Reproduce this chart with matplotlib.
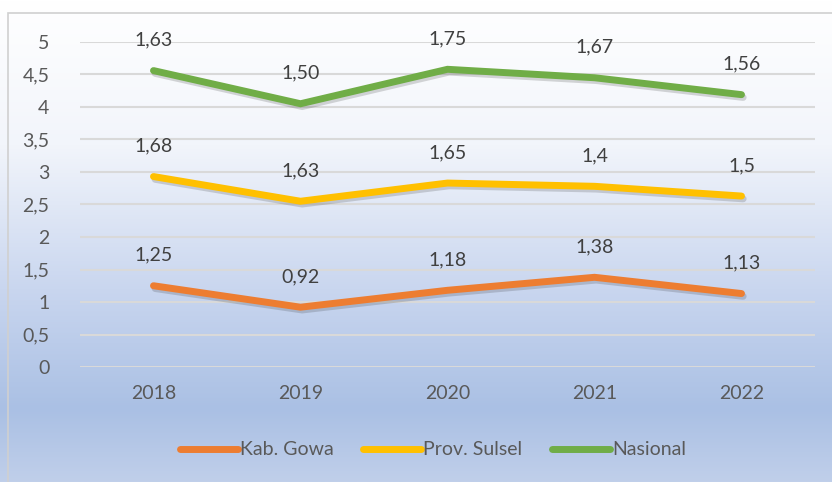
import numpy as np
import matplotlib.pyplot as plt
import matplotlib.patheffects as pe
from matplotlib.colors import LinearSegmentedColormap
from matplotlib.patches import Rectangle

years = ["2018", "2019", "2020", "2021", "2022"]
gowa = [1.25, 0.92, 1.18, 1.38, 1.13]
sulsel = [1.68, 1.63, 1.65, 1.4, 1.5]
nasional = [1.63, 1.50, 1.75, 1.67, 1.56]
labels_gowa = ["1,25", "0,92", "1,18", "1,38", "1,13"]
labels_sulsel = ["1,68", "1,63", "1,65", "1,4", "1,5"]
labels_nasional = ["1,63", "1,50", "1,75", "1,67", "1,56"]

plt.rcParams['font.family'] = ['Lato', 'DejaVu Sans']
text_color = "#595959"
fs = 14

fig = plt.figure(figsize=(8.32, 4.82), dpi=100)

# gradient background for the whole chart area
bg = fig.add_axes([0, 0, 1, 1], zorder=-10)
grad = LinearSegmentedColormap.from_list("bg", [
    (0.0, "#ffffff"), (0.3, "#f2f5fb"), (0.6, "#c9d6ef"),
    (0.85, "#aac0e4"), (1.0, "#c0cfea")])
bg.imshow(np.linspace(0, 1, 256).reshape(-1, 1), aspect="auto", cmap=grad,
          extent=[0, 1, 0, 1], origin="upper")
bg.add_patch(Rectangle((8 / 832, -0.01), 1, 1 - 13 / 482 + 0.01, fill=False,
                       edgecolor="#d0d0d0", lw=1.2, transform=bg.transAxes))
bg.set_xlim(0, 1)
bg.set_ylim(0, 1)
bg.axis("off")

ax = fig.add_axes([80 / 832, 1 - 367 / 482, 735 / 832, 325 / 482])
ax.patch.set_alpha(0)

x = np.arange(len(years))
s1 = np.array(gowa)
s2 = s1 + np.array(sulsel)
s3 = s2 + np.array(nasional)

shadow = [pe.SimpleLineShadow(offset=(1.2, -2.0), alpha=0.18, shadow_color="#222222"), pe.Normal()]
series = [
    (s1, "#ed7d31", "Kab. Gowa", labels_gowa),
    (s2, "#ffc000", "Prov. Sulsel", labels_sulsel),
    (s3, "#70ad47", "Nasional", labels_nasional),
]
for vals, color, name, labs in series:
    ax.plot(x, vals, color=color, lw=5, solid_capstyle="round",
            solid_joinstyle="miter", label=name, path_effects=shadow, zorder=3)
    for xi, yi, lab in zip(x, vals, labs):
        ax.annotate(lab, (xi, yi), xytext=(0, 22), textcoords="offset points",
                    ha="center", va="center", fontsize=fs, color="#404040",
                    zorder=4)

ax.set_xlim(-0.5, len(years) - 0.5)
ax.set_ylim(0, 5)
ax.set_yticks(np.arange(0, 5.01, 0.5))
ax.set_yticklabels(["0", "0,5", "1", "1,5", "2", "2,5", "3", "3,5", "4", "4,5", "5"])
ax.set_xticks(x)
ax.set_xticklabels(years)
ax.tick_params(length=0, labelsize=fs, colors=text_color)
ax.tick_params(axis="x", pad=13)
ax.tick_params(axis="y", pad=22)
ax.grid(axis="y", color="#d9d9d9", lw=1.5, zorder=0)
ax.set_axisbelow(True)
for sp in ax.spines.values():
    sp.set_visible(False)

leg = ax.legend(loc="center", bbox_to_anchor=(0.48, -0.255), ncol=3, frameon=False,
                fontsize=fs, handlelength=3.0, handletextpad=0.1, columnspacing=1.5)
for t in leg.get_texts():
    t.set_color(text_color)
for h in leg.get_lines():
    h.set_linewidth(5)
    h.set_solid_capstyle("round")
    h.set_path_effects([])

fig.savefig("out.png", dpi=100)
